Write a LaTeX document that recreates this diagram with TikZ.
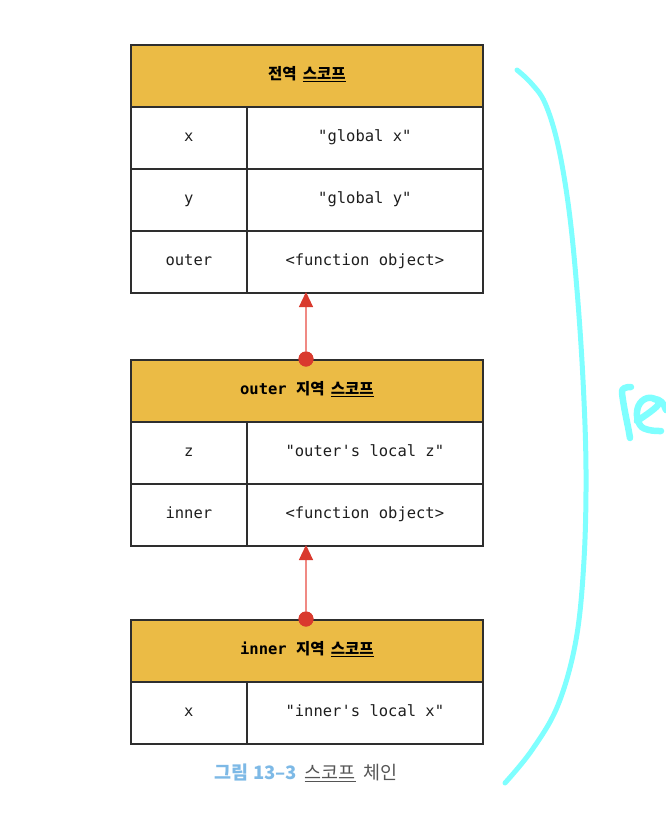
\documentclass[tikz,border=0pt]{standalone}
\usepackage{fontspec}
\setmonofont{DejaVu Sans Mono}
\newfontfamily\kr{Noto Sans CJK KR}
\usetikzlibrary{arrows.meta}
\definecolor{hdr}{HTML}{EBBB45}
\definecolor{frame}{HTML}{2E2E2E}
\definecolor{ink}{HTML}{1E1E1E}
\definecolor{redd}{HTML}{D93A2E}
\definecolor{redl}{HTML}{F08A84}
\definecolor{capblue}{HTML}{7DB9E6}
\definecolor{capgray}{HTML}{555555}
\definecolor{hand}{HTML}{7FFFFF}
\newcommand{\krsp}{\hspace{0.4em}}
\tikzset{
  cell/.style={draw=frame, line width=1.7pt, anchor=north west, inner sep=0pt,
    minimum height=62pt, text height=11pt, text depth=3pt,
    font=\fontsize{15.5}{17}\selectfont\ttfamily, text=ink},
  keycell/.style={cell, minimum width=116pt},
  valcell/.style={cell, minimum width=236pt},
  headcell/.style={cell, fill=hdr, minimum width=352pt, font=\fontsize{15.5}{17}\selectfont\ttfamily\bfseries, text=black},
  linkdot/.style={circle, fill=redd, inner sep=0pt, minimum size=15pt},
  chain/.style={redl, line width=1.1pt, -{Triangle[width=14pt,length=15pt,color=redd]}},
  handline/.style={hand, line width=5pt, line cap=round, line join=round}
}
\begin{document}
\begin{tikzpicture}[x=1pt,y=-1pt]
\useasboundingbox (0,0) rectangle (666,823);
% global scope
\node[headcell] (g) at (130,44) {{\kr\bfseries 전역\krsp\underline{스코프}}};
\node[keycell] (g1k) at (130,106) {x};
\node[valcell] (g1v) at (246,106) {"global x"};
\node[keycell] (g2k) at (130,168) {y};
\node[valcell] (g2v) at (246,168) {"global y"};
\node[keycell] (g3k) at (130,230) {outer};
\node[valcell] (g3v) at (246,230) {<function object>};
\coordinate (gbot) at (306,292);
% outer scope
\node[headcell] (o) at (130,359) {outer {\kr\bfseries 지역\krsp\underline{스코프}}};
\node[keycell] (o1k) at (130,421) {z};
\node[valcell] (o1v) at (246,421) {"outer's local z"};
\node[keycell] (o2k) at (130,483) {inner};
\node[valcell] (o2v) at (246,483) {<function object>};
\coordinate (obot) at (306,545);
% inner scope
\node[headcell] (i) at (130,619) {inner {\kr\bfseries 지역\krsp\underline{스코프}}};
\node[keycell] (i1k) at (130,681) {x};
\node[valcell] (i1v) at (246,681) {"inner's local x"};
% chain links
\node[linkdot] (d1) at (306,359) {};
\node[linkdot] (d2) at (306,619) {};
\draw[chain] (d1.center) -- (gbot);
\draw[chain] (d2.center) -- (obot);
\node[linkdot] at (d1) {};
\node[linkdot] at (d2) {};
% caption
\node (cap) at (306,773) {\fontsize{18.5}{21}\selectfont\kr{\color{capblue}\bfseries 그림 13–3}\krsp{\color{capgray}\underline{스코프}\krsp 체인}};
% handwritten annotation
\draw[handline] plot[smooth, tension=0.6] coordinates {(517,70) (531,83) (545,103) (558,145) (569,210) (577,290) (583,380) (586,470) (584,560) (576,640) (558,705) (532,750) (505,783)};
\draw[handline, line width=6.5pt] (631,387) .. controls (626,387) and (621,388) .. (622,393) .. controls (624,410) and (628,425) .. (630,438);
\draw[handline, line width=6.5pt] plot[smooth, tension=0.7] coordinates {(637,421) (658,405) (652,398) (642,401) (637,412) (640,425) (649,430) (661,431)};
\draw[handline, line width=6.5pt] (654,399) .. controls (660,399) and (664,403) .. (666,410);
\end{tikzpicture}
\end{document}
